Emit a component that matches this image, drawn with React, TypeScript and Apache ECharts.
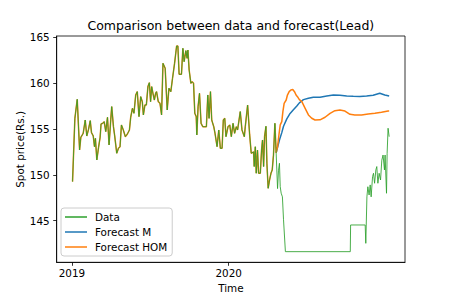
import React, { useEffect, useRef } from "react";
import * as echarts from "echarts";

// Observed data (x in fractional years)
const histX = [2019.004, 2019.019, 2019.034, 2019.049, 2019.057, 2019.072, 2019.085, 2019.095, 2019.106, 2019.117,
  2019.125, 2019.136, 2019.144, 2019.150, 2019.159, 2019.170, 2019.180, 2019.186, 2019.197, 2019.206,
  2019.216, 2019.227, 2019.237, 2019.248, 2019.254, 2019.265, 2019.273, 2019.286, 2019.297, 2019.307,
  2019.316, 2019.328, 2019.341, 2019.354, 2019.367, 2019.375, 2019.386, 2019.396, 2019.407, 2019.417,
  2019.428, 2019.439, 2019.449, 2019.456, 2019.466, 2019.475, 2019.485, 2019.494, 2019.502, 2019.509,
  2019.517, 2019.526, 2019.534, 2019.540, 2019.551, 2019.562, 2019.572, 2019.581, 2019.595, 2019.608,
  2019.619, 2019.631, 2019.642, 2019.655, 2019.668, 2019.676, 2019.680, 2019.684, 2019.699, 2019.708,
  2019.716, 2019.727, 2019.735, 2019.740, 2019.748, 2019.759, 2019.767, 2019.776, 2019.784, 2019.793,
  2019.797, 2019.805, 2019.814, 2019.824, 2019.835, 2019.846, 2019.858, 2019.867, 2019.875, 2019.884,
  2019.892, 2019.905, 2019.913, 2019.926, 2019.937, 2019.947, 2019.958, 2019.966, 2019.975, 2019.983,
  2019.996, 2020.007, 2020.017, 2020.028, 2020.038, 2020.049, 2020.057, 2020.074, 2020.085, 2020.100,
  2020.106, 2020.121, 2020.134, 2020.144, 2020.159, 2020.163, 2020.170, 2020.176, 2020.184, 2020.191,
  2020.202, 2020.210, 2020.216, 2020.223, 2020.229, 2020.238, 2020.244, 2020.252, 2020.261, 2020.270,
  2020.278, 2020.286, 2020.295, 2020.303];
const histY = [149.26, 156.16, 158.24, 152.71, 154.09, 154.53, 155.98, 154.24, 154.96, 155.91,
  154.60, 154.24, 153.07, 153.98, 151.62, 153.00, 154.09, 155.55, 155.62, 155.80,
  154.71, 156.27, 153.26, 156.05, 157.44, 155.25, 154.24, 152.35, 152.89, 153.07,
  155.44, 154.89, 154.16, 154.45, 154.89, 156.27, 157.25, 156.71, 158.71, 159.07,
  156.35, 158.53, 157.98, 156.53, 157.62, 157.62, 159.62, 160.05, 157.98, 159.62,
  158.89, 158.16, 158.89, 159.07, 157.98, 157.80, 156.53, 162.16, 161.62, 157.07,
  159.44, 159.07, 160.53, 162.16, 164.05, 164.05, 162.52, 160.96, 160.96, 163.80,
  162.34, 163.54, 162.71, 163.61, 161.43, 159.98, 160.16, 159.98, 156.71, 156.35,
  154.35, 157.44, 158.89, 155.62, 155.25, 155.25, 155.25, 158.71, 156.16, 159.07,
  155.98, 155.25, 154.53, 153.07, 154.89, 152.89, 152.89, 155.98, 156.16, 154.16,
  155.25, 155.44, 154.16, 155.62, 154.53, 155.25, 154.89, 156.9, 154.9, 154.16,
  155.25, 157.6, 154.35, 152.35, 152.5, 150.9, 153.07, 150.17, 152.7, 150.17,
  150.17, 152.7, 153.8, 150.9, 154.16, 155.3, 151.26, 148.53, 149.44, 150.17,
  150.53, 152.16, 155.62, 152.4];

// Observed data after the forecast start
const postX = [2020.312, 2020.318, 2020.324, 2020.329, 2020.335, 2020.343, 2020.350, 2020.362,
  2020.776, 2020.778, 2020.871, 2020.875, 2020.882, 2020.888, 2020.896, 2020.903, 2020.909, 2020.918,
  2020.924, 2020.931, 2020.939, 2020.945, 2020.952, 2020.960, 2020.969, 2020.977, 2020.985, 2020.994,
  2020.998, 2021.007, 2021.011, 2021.017, 2021.024];
const postY = [148.5, 150.5, 151.26, 148.7, 148.0, 147.6, 145.1, 141.62,
  141.62, 144.53, 144.53, 142.53, 147.6, 148.7, 147.8, 148.9, 147.6, 149.8,
  150.17, 149.08, 150.53, 150.9, 149.08, 150.17, 149.44, 151.6, 152.16, 150.53,
  152.16, 147.99, 152.35, 155.08, 154.16];

// Forecast HOM
const homX = [2020.312, 2020.322, 2020.329, 2020.339, 2020.346, 2020.354, 2020.367, 2020.375, 2020.386, 2020.397,
  2020.409, 2020.420, 2020.430, 2020.439, 2020.451, 2020.467, 2020.488, 2020.509, 2020.530, 2020.551,
  2020.583, 2020.615, 2020.647, 2020.678, 2020.710, 2020.742, 2020.774, 2020.805, 2020.848, 2020.890,
  2020.933, 2020.975, 2021.017, 2021.024];
const homY = [153.07, 154.53, 155.44, 155.8, 156.9, 157.8, 158.16, 158.7, 159.07, 159.25,
  159.3, 159.07, 158.7, 158.52, 158.2, 157.98, 157.25, 156.53, 156.17, 155.98,
  156.0, 156.28, 156.71, 157.0, 157.07, 156.96, 156.6, 156.53, 156.53, 156.64,
  156.71, 156.82, 156.96, 156.96];

// Forecast M
const mX = [2020.324, 2020.339, 2020.350, 2020.371, 2020.392, 2020.413, 2020.435, 2020.451, 2020.477, 2020.509,
  2020.540, 2020.583, 2020.626, 2020.668, 2020.710, 2020.753, 2020.795, 2020.837, 2020.880, 2020.922,
  2020.964, 2020.996, 2021.024];
const mY = [153.8, 154.6, 155.3, 156.1, 156.7, 157.1, 157.5, 157.85, 158.2, 158.35,
  158.46, 158.46, 158.6, 158.7, 158.67, 158.6, 158.56, 158.53, 158.6, 158.67,
  158.89, 158.7, 158.6];

const xTicks = [2019, 2020];
const yTicks = [145, 150, 155, 160, 165];
const seriesNames = ["Data", "Forecast M", "Forecast HOM"];
const titleText = "Comparison between data and forecast(Lead)";
const yAxisTitle = "Spot price(Rs.)";

const zip = (xs: number[], ys: number[]) => xs.map((x, i) => [x, ys[i]]);

export default function App() {
  const ref = useRef<HTMLDivElement>(null);
  useEffect(() => {
    if (!ref.current) return;
    const chart = echarts.init(ref.current, null, { renderer: "svg" });
    const font = "DejaVu Sans";
    const lastHist = [histX[histX.length - 1], histY[histY.length - 1]];
    const dataSeries = [...zip(histX, histY), ...zip(postX, postY)];
    const homSeries = [...zip(histX, histY), ...zip(homX, homY)];
    const mSeries = [lastHist, ...zip(mX, mY)];
    chart.setOption({
      animation: false,
      backgroundColor: "#fff",
      graphic: [
        {
          type: "text",
          x: 230.8,
          y: 25,
          style: {
            text: titleText,
            fontFamily: font,
            fontSize: 12.5,
            fill: "#000",
            textAlign: "center",
            textVerticalAlign: "middle",
          },
        },
        {
          type: "text",
          x: 20,
          y: 149.3,
          rotation: Math.PI / 2,
          style: {
            text: yAxisTitle,
            fontFamily: font,
            fontSize: 10.4,
            fill: "#000",
            textAlign: "center",
            textVerticalAlign: "middle",
          },
        },
      ],
      grid: { left: 56.7, right: 45, top: 36, bottom: 37.7, show: true, borderColor: "#000", borderWidth: 0.8, outerBoundsMode: "none" },
      legend: {
        data: seriesNames.map((n) => ({ name: n, icon: "rect" })),
        orient: "vertical",
        left: 61,
        top: 208,
        itemWidth: 22,
        itemHeight: 1.5,
        itemGap: 3,
        padding: [3, 5, 3, 4],
        backgroundColor: "rgba(255,255,255,0.8)",
        borderColor: "#ccc",
        borderWidth: 1,
        borderRadius: 3,
        textStyle: { fontFamily: font, fontSize: 10.4, color: "#000", lineHeight: 12, padding: [0, 0, 0, 3] },
      },
      xAxis: {
        type: "value",
        min: 2018.903,
        max: 2021.125,
        name: "Time",
        nameLocation: "middle",
        nameGap: 20,
        nameTextStyle: { fontFamily: font, fontSize: 10.4, color: "#000" },
        splitLine: { show: false },
        axisLine: { show: true, lineStyle: { color: "#000", width: 0.8 } },
        axisTick: { show: true, length: 3.5, lineStyle: { color: "#000", width: 0.8 }, customValues: xTicks },
        axisLabel: { fontFamily: font, fontSize: 10.4, color: "#000", margin: 6, customValues: xTicks, formatter: (v: number) => String(Math.round(v)) },
      },
      yAxis: {
        type: "value",
        min: 140.46,
        max: 165.14,
        splitLine: { show: false },
        axisLine: { show: true, lineStyle: { color: "#000", width: 0.8 } },
        axisTick: { show: true, length: 3.5, lineStyle: { color: "#000", width: 0.8 }, customValues: yTicks },
        axisLabel: { fontFamily: font, fontSize: 10.4, color: "#000", margin: 7, customValues: yTicks, formatter: (v: number) => String(Math.round(v)) },
      },
      series: [
        {
          name: "Forecast M",
          type: "line",
          data: mSeries,
          symbol: "none",
          color: "#1f77b4",
          lineStyle: { color: "#1f77b4", width: 1.5 },
          z: 2,
        },
        {
          name: "Forecast HOM",
          type: "line",
          data: homSeries,
          symbol: "none",
          color: "#ff7f0e",
          lineStyle: { color: "#ff7f0e", width: 1.5 },
          z: 3,
        },
        {
          name: "Data",
          type: "line",
          data: dataSeries,
          symbol: "none",
          color: "#2ca02c",
          lineStyle: { color: "#2ca02c", width: 1, opacity: 0.85 },
          z: 4,
        },
      ],
    });
    return () => chart.dispose();
  }, []);
  return <div ref={ref} style={{ width: 450, height: 300, margin: -8 }} />;
}
